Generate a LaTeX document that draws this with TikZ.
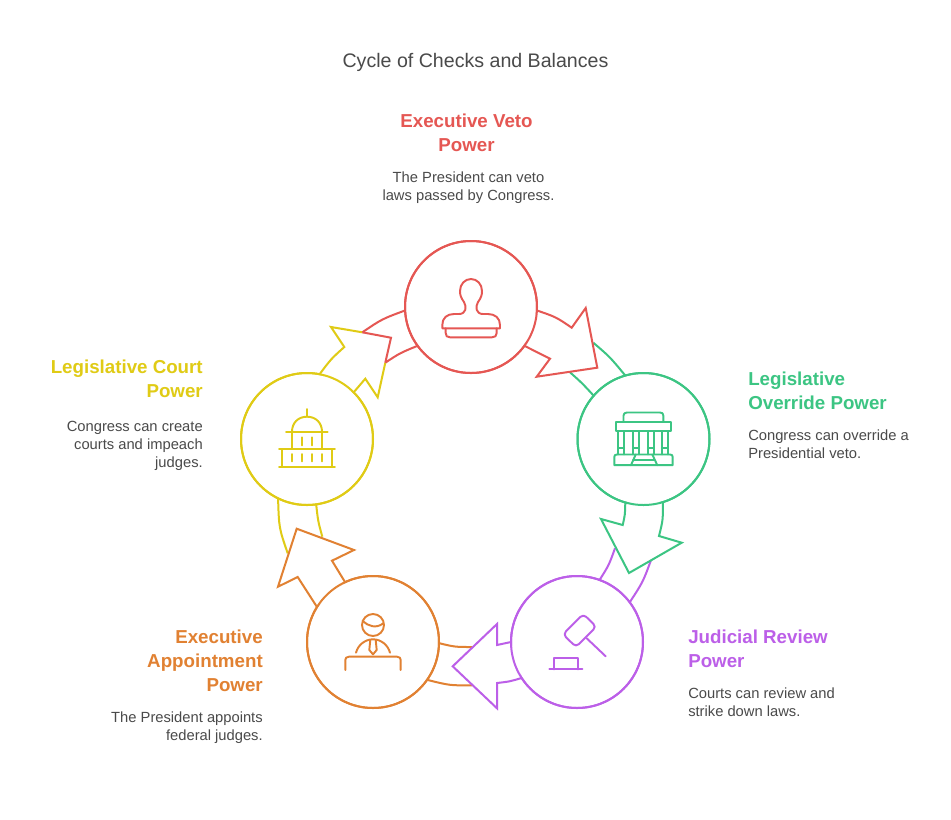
\documentclass[tikz,border=0pt]{standalone}
\usepackage{fontspec}
\setmainfont{Liberation Sans}
\definecolor{cred}{HTML}{E55753}
\definecolor{cgreen}{HTML}{3CC583}
\definecolor{cyellow}{HTML}{E0CB15}
\definecolor{corange}{HTML}{E18132}
\definecolor{cpurple}{HTML}{BC5FE8}
\definecolor{ctitle}{HTML}{4A4A4A}
\definecolor{cbody}{HTML}{4A4A4A}
\tikzset{
  hub/.style={circle,draw=#1,line width=1.5pt,minimum size=99pt,inner sep=0pt,outer sep=0pt,fill=white},
  tail/.style={line width=1.5pt,draw=#1,line join=round},
  blockarrow/.style={line width=1.5pt,draw=#1,fill=white,line join=miter},
  glyph/.style={line width=1.45pt,draw=#1,line join=round,line cap=round},
  heading/.style={font=\fontsize{14.05}{18}\selectfont\bfseries,text=#1,inner sep=0pt},
  bodytext/.style={font=\fontsize{11.05}{13.5}\selectfont,text=cbody,inner sep=0pt},
  titletext/.style={font=\fontsize{14.7}{17}\selectfont,text=ctitle,inner sep=0pt}
}
\begin{document}
\begin{tikzpicture}[x=0.75pt,y=-0.75pt]
\useasboundingbox (0,0) rectangle (951,819);
\fill[white] (0,0) rectangle (951,819);

% hubs
\node[hub=cred]    (veto)     at (471,307) {};
\node[hub=cgreen]  (override) at (643.5,439) {};
\node[hub=cpurple] (review)   at (577,642) {};
\node[hub=corange] (appoint)  at (373,642) {};
\node[hub=cyellow] (court)    at (307,439) {};

% tails of incoming arrows
\draw[tail=cgreen] (override.106.7) .. controls (610,357) .. (593.3,342.7);
\draw[tail=cgreen] (override.139.8) .. controls (582,383) .. (570,372.3);
\draw[tail=cpurple] (review.70.4) .. controls (609,565) .. (615,548.3);
\draw[tail=cpurple] (review.37.7) .. controls (643,582) .. (651.3,559.3);
\draw[tail=corange] (appoint.-1.7) .. controls (455,647) .. (472.3,647);
\draw[tail=corange] (appoint.-35.5) .. controls (450,685.5) .. (472.3,685.3);
\draw[tail=cyellow] (court.244.6) .. controls (279,528) .. (287.7,553.3);
\draw[tail=cyellow] (court.278.4) .. controls (318,521) .. (322.3,536.7);
\draw[tail=cred] (veto.183.5) .. controls (382,319) .. (362.3,332.3);
\draw[tail=cred] (veto.216.9) .. controls (400,353) .. (385.3,362.7);

% block arrows
\fill[white] (veto.-3.4) .. controls (556,317) .. (571.7,327.7) -- (585.7,308) -- (597.3,367.7) -- (536.7,376.7) -- (550,358.7) .. controls (538,352) .. (veto.-36.8) -- cycle;
\draw[blockarrow=cred,fill=none] (veto.-3.4) .. controls (556,317) .. (571.7,327.7) -- (585.7,308) -- (597.3,367.7) -- (536.7,376.7) -- (550,358.7) .. controls (538,352) .. (veto.-36.8);

\fill[white] (override.254.5) .. controls (625,515) .. (622.7,525) -- (601,519) -- (629,573) -- (681.7,542.7) -- (659,536) .. controls (663,520) .. (override.287.8) -- cycle;
\draw[blockarrow=cgreen,fill=none] (override.254.5) .. controls (625,515) .. (622.7,525) -- (601,519) -- (629,573) -- (681.7,542.7) -- (659,536) .. controls (663,520) .. (override.287.8);

\fill[white] (review.180) -- (497,645) -- (497,624) -- (452.7,666.3) -- (497,708.3) -- (497,683) .. controls (510,681.5) .. (review.213.6) -- cycle;
\draw[blockarrow=cpurple,fill=none] (review.180) -- (497,645) -- (497,624) -- (452.7,666.3) -- (497,708.3) -- (497,683) .. controls (510,681.5) .. (review.213.6);

\fill[white] (appoint.148.7) -- (297.7,577) -- (278,586.7) -- (296.7,528.7) -- (354,550) -- (332,560.7) -- (appoint.115.1) -- cycle;
\draw[blockarrow=corange,fill=none] (appoint.148.7) -- (297.7,577) -- (278,586.7) -- (296.7,528.7) -- (354,550) -- (332,560.7) -- (appoint.115.1);

\fill[white] (court.79.6) .. controls (331,359) .. (344.3,347) -- (331,327) -- (391,337.7) -- (377.7,397.3) -- (365.3,378.7) -- (court.45.9) -- cycle;
\draw[blockarrow=cyellow,fill=none] (court.79.6) .. controls (331,359) .. (344.3,347) -- (331,327) -- (362.3,332.3);
\draw[blockarrow=cyellow,fill=none] (385.3,362.7) -- (377.7,397.3) -- (365.3,378.7) -- (court.45.9);
\draw[blockarrow=cred,fill=none] (362.3,332.3) -- (391,337.7) -- (385.3,362.7);

% redraw hub outlines above the arrows
\foreach \n/\c in {veto/cred,override/cgreen,review/cpurple,appoint/corange,court/cyellow}
  \draw[line width=1.5pt,draw=\c] (\n) circle (66);

% stamp
\draw[glyph=cred] (442.3,328.3) -- (442.3,325) .. controls (442.3,318) and (447,314) .. (454,314) -- (459,314)
  .. controls (466,314) and (467,307) .. (464,302) .. controls (461,298) and (460,295) .. (460,291)
  .. controls (460,284) and (465,279) .. (471,279) .. controls (477,279) and (482,284) .. (482,291)
  .. controls (482,295) and (481,298) .. (478,302) .. controls (475,307) and (476,314) .. (483,314)
  -- (488,314) .. controls (495,314) and (500,318) .. (500,325) -- (500,328.3) -- cycle;
\draw[glyph=cred] (445.7,328.3) -- (445.7,333) .. controls (445.7,336) and (447,337.3) .. (450,337.3) -- (492,337.3) .. controls (495,337.3) and (496.7,336) .. (496.7,333) -- (496.7,328.3);

% temple
\draw[glyph=cgreen] (623.5,421.7) -- (623.5,415.5) .. controls (623.5,413.5) and (625,412.5) .. (627,412.5) -- (660,412.5) .. controls (662.3,412.5) and (663.3,413.5) .. (663.3,415.5) -- (663.3,421.7);
\draw[glyph=cgreen] (616,421.7) rectangle (671,431);
\foreach \ca/\cb in {618.3/624.3,633.3/639.3,647.7/653.7,661.7/667.7}{
  \draw[glyph=cgreen,line width=1.25pt] (\ca,431) -- (\ca,454.5);
  \draw[glyph=cgreen,line width=1.25pt] (\cb,431) -- (\cb,454.5);
  \draw[glyph=cgreen,line width=1.25pt] (\ca,448.3) -- (\cb,448.3);
}
\draw[glyph=cgreen] (614.3,465.2) -- (614.3,457) .. controls (614.3,455.2) and (615.3,454.5) .. (617,454.5) -- (670,454.5) .. controls (671.7,454.5) and (672.7,455.2) .. (672.7,457) -- (672.7,465.2) -- cycle;
\draw[glyph=cgreen] (631,465.2) -- (635.7,454.5);
\draw[glyph=cgreen] (652.3,454.5) -- (657.3,465.2);
\draw[glyph=cgreen] (633,460) -- (654.5,460);

% capitol
\draw[glyph=cyellow] (307,409) -- (307,416.7);
\draw[glyph=cyellow] (292,431.7) .. controls (292,423) and (298,416.7) .. (307,416.7) .. controls (316,416.7) and (322,423) .. (322,431.7);
\draw[glyph=cyellow] (286,431.7) -- (327.7,431.7);
\draw[glyph=cyellow] (292,431.7) -- (292,449);
\draw[glyph=cyellow] (322,431.7) -- (322,449);
\draw[glyph=cyellow] (279,449) -- (335,449);
\draw[glyph=cyellow] (281.7,449) -- (281.7,466.7);
\draw[glyph=cyellow] (332.3,449) -- (332.3,466.7);
\draw[glyph=cyellow] (279,466.7) -- (335,466.7);
\foreach \tx in {302,312}
  \draw[glyph=cyellow] (\tx,437.3) -- (\tx,445.3);
\foreach \tx in {292,302,312,322}
  \draw[glyph=cyellow] (\tx,454) -- (\tx,461.3);

% person
\draw[glyph=corange] (373,625) circle (11);
\draw[glyph=corange] (362.7,621) .. controls (368,626) and (376,629) .. (383.3,623.3);
\draw[glyph=corange] (356,652.7) .. controls (358,645) and (365,639.3) .. (373,639.3) .. controls (381,639.3) and (388,645) .. (390,652.7);
\draw[glyph=corange] (370.3,640) -- (369.3,650) -- (373,654.3) -- (376.7,650) -- (375.7,640);
\draw[glyph=corange] (345.3,670) -- (345.3,660) .. controls (345.3,658) and (346.5,656.7) .. (349,656.7) -- (397,656.7) .. controls (399.5,656.7) and (400.7,658) .. (400.7,660) -- (400.7,670);

% gavel
\draw[glyph=cpurple,rounded corners=3pt] (583.3,614) -- (596.3,626.7) -- (576,647) -- (563,634.3) -- cycle;
\draw[glyph=cpurple] (586.7,638.3) -- (605.7,656.3);
\draw[glyph=cpurple] (549.3,669.3) -- (582.3,669.3);
\draw[glyph=cpurple] (553.7,669.3) -- (553.7,658.3) -- (577.7,658.3) -- (577.7,669.3);

% texts
\node[titletext,anchor=base] (title) at (475.5,67) {Cycle of Checks and Balances};

\node[heading=cred,anchor=north,align=center] (h1) at (466.5,114) {Executive Veto\\Power};
\node[bodytext,anchor=north,align=center] (b1) at (468.5,172) {The President can veto\\laws passed by Congress.};

\node[heading=cgreen,anchor=north west,align=left] (h2) at (748,372) {Legislative\\Override Power};
\node[bodytext,anchor=north west,align=left] (b2) at (748,430) {Congress can override a\\Presidential veto.};

\node[heading=cpurple,anchor=north west,align=left] (h3) at (688,630) {Judicial Review\\Power};
\node[bodytext,anchor=north west,align=left] (b3) at (688,688) {Courts can review and\\strike down laws.};

\node[heading=corange,anchor=north east,align=right] (h4) at (263,630) {Executive\\Appointment\\Power};
\node[bodytext,anchor=north east,align=right] (b4) at (263,712) {The President appoints\\federal judges.};

\node[heading=cyellow,anchor=north east,align=right] (h5) at (203,360) {Legislative Court\\Power};
\node[bodytext,anchor=north east,align=right] (b5) at (203,421) {Congress can create\\courts and impeach\\judges.};
\end{tikzpicture}
\end{document}
